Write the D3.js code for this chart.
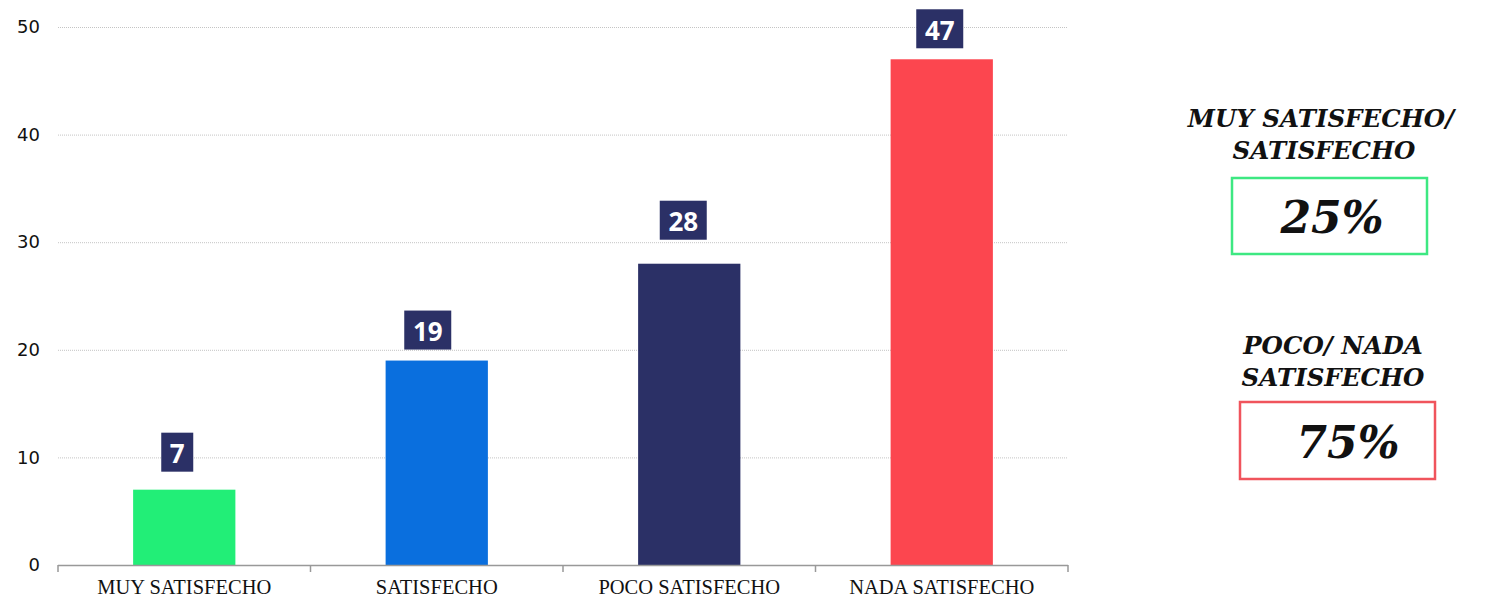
<!DOCTYPE html>
<html>
<head>
<meta charset="utf-8">
<script src="https://cdn.jsdelivr.net/npm/d3@7"></script>
<style>
  body { margin: 0; background: #fff; }
  svg { display: block; }
</style>
</head>
<body>
<div id="chart"></div>
<script>
const categories = ['MUY SATISFECHO', 'SATISFECHO', 'POCO SATISFECHO', 'NADA SATISFECHO'];
const values = [7, 19, 28, 47];
const barColors = ['#22ee77', '#0a6fde', '#2b3066', '#fc464f'];
const yTicks = [0, 10, 20, 30, 40, 50];

const summaryTitles = [['MUY SATISFECHO/', 'SATISFECHO'], ['POCO/ NADA', 'SATISFECHO']];
const summaryValues = ['25%', '75%'];
const summaryColors = ['#3de882', '#f0545c'];

const width = 1491;
const height = 599;
const margin = { left: 58, right: 423, top: 27, bottom: 34 };

// hand-placed label boxes: horizontal shift from bar centre, gap above bar top
const labelOffsets = [{ dx: -7, gap: 18 }, { dx: -9, gap: 11 }, { dx: -6, gap: 24 }, { dx: -2, gap: 11 }];

const svg = d3.select('#chart')
    .append('svg')
    .attr('width', width)
    .attr('height', height);

const xScale = d3.scaleBand()
    .domain(categories)
    .range([margin.left, width - margin.right])
    .paddingInner(0.595)
    .paddingOuter(0.2975);

const yScale = d3.scaleLinear()
    .domain([0, 50])
    .range([height - margin.bottom, margin.top]);

// gridlines
svg.append('g')
    .selectAll('line')
    .data(yTicks.slice(1))
    .enter()
    .append('line')
    .attr('x1', margin.left)
    .attr('x2', width - margin.right)
    .attr('y1', d => yScale(d) + 0.5)
    .attr('y2', d => yScale(d) + 0.5)
    .attr('stroke', '#c4c4c4')
    .attr('stroke-dasharray', '1,1');

// y axis labels
const yAxis = d3.axisLeft(yScale)
    .tickValues(yTicks)
    .tickSize(0)
    .tickPadding(18);

svg.append('g')
    .attr('transform', `translate(${margin.left}, 0)`)
    .call(yAxis)
    .call(g => g.select('.domain').remove())
    .selectAll('text')
    .attr('font-family', 'DejaVu Sans')
    .attr('font-size', 18)
    .attr('fill', '#111');

// bars
svg.selectAll('rect.bar')
    .data(values)
    .enter()
    .append('rect')
    .attr('class', 'bar')
    .attr('x', (d, i) => xScale(categories[i]))
    .attr('width', xScale.bandwidth())
    .attr('y', d => yScale(d))
    .attr('height', d => yScale(0) - yScale(d))
    .attr('fill', (d, i) => barColors[i]);

// x axis with ticks between categories
const xPositions = [margin.left].concat(categories.map((c, i) => margin.left + (i + 1) * xScale.step()));
const xAxisG = svg.append('g');
xAxisG.append('line')
    .attr('x1', margin.left)
    .attr('x2', width - margin.right)
    .attr('y1', yScale(0) + 0.5)
    .attr('y2', yScale(0) + 0.5)
    .attr('stroke', '#999')
    .attr('stroke-width', 1.5);
xAxisG.selectAll('line.tick')
    .data(xPositions)
    .enter()
    .append('line')
    .attr('class', 'tick')
    .attr('x1', d => d)
    .attr('x2', d => d)
    .attr('y1', yScale(0))
    .attr('y2', yScale(0) + 7)
    .attr('stroke', '#999')
    .attr('stroke-width', 1.5);
xAxisG.selectAll('text')
    .data(categories)
    .enter()
    .append('text')
    .attr('x', d => xScale(d) + xScale.bandwidth() / 2)
    .attr('y', yScale(0) + 28.5)
    .attr('text-anchor', 'middle')
    .attr('font-family', 'Liberation Serif')
    .attr('font-size', 20.5)
    .attr('fill', '#111')
    .text(d => d);

// value labels
const labels = svg.selectAll('g.vlabel')
    .data(values)
    .enter()
    .append('g')
    .attr('class', 'vlabel')
    .attr('transform', (d, i) => `translate(${xScale(categories[i]) + xScale.bandwidth() / 2 + labelOffsets[i].dx}, ${yScale(d) - labelOffsets[i].gap})`);

labels.each(function(d) {
    const g = d3.select(this);
    const w = String(d).length === 1 ? 32 : 47;
    g.append('rect')
        .attr('x', -w / 2)
        .attr('y', -39)
        .attr('width', w)
        .attr('height', 39)
        .attr('fill', '#2b3066');
    g.append('text')
        .attr('x', 0)
        .attr('y', -8.5)
        .attr('text-anchor', 'middle')
        .attr('font-family', 'Open Sans')
        .attr('font-weight', 'bold')
        .attr('font-size', 26)
        .attr('fill', '#fff')
        .text(d);
});

// summary panel on the right
const panel = [
    { cx: [1321, 1324], titleY: 127, box: [1232, 178, 195, 76], valX: 1332, valY: 233 },
    { cx: [1333, 1333], titleY: 354, box: [1240, 402, 195, 77], valX: 1348, valY: 458 }
];

panel.forEach((p, i) => {
    const g = svg.append('g');
    summaryTitles[i].forEach((line, j) => {
        g.append('text')
            .attr('x', p.cx[j])
            .attr('y', p.titleY + j * 32)
            .attr('text-anchor', 'middle')
            .attr('font-family', 'DejaVu Serif')
            .attr('font-style', 'italic')
            .attr('font-weight', 'bold')
            .attr('font-size', 24.5)
            .attr('fill', '#111')
            .text(line);
    });
    g.append('rect')
        .attr('x', p.box[0])
        .attr('y', p.box[1])
        .attr('width', p.box[2])
        .attr('height', p.box[3])
        .attr('fill', '#fff')
        .attr('stroke', summaryColors[i])
        .attr('stroke-width', 2.5);
    g.append('text')
        .attr('x', p.valX)
        .attr('y', p.valY)
        .attr('text-anchor', 'middle')
        .attr('font-family', 'DejaVu Serif')
        .attr('font-style', 'italic')
        .attr('font-weight', 'bold')
        .attr('font-size', 44)
        .attr('fill', '#111')
        .text(summaryValues[i]);
});
</script>
</body>
</html>
